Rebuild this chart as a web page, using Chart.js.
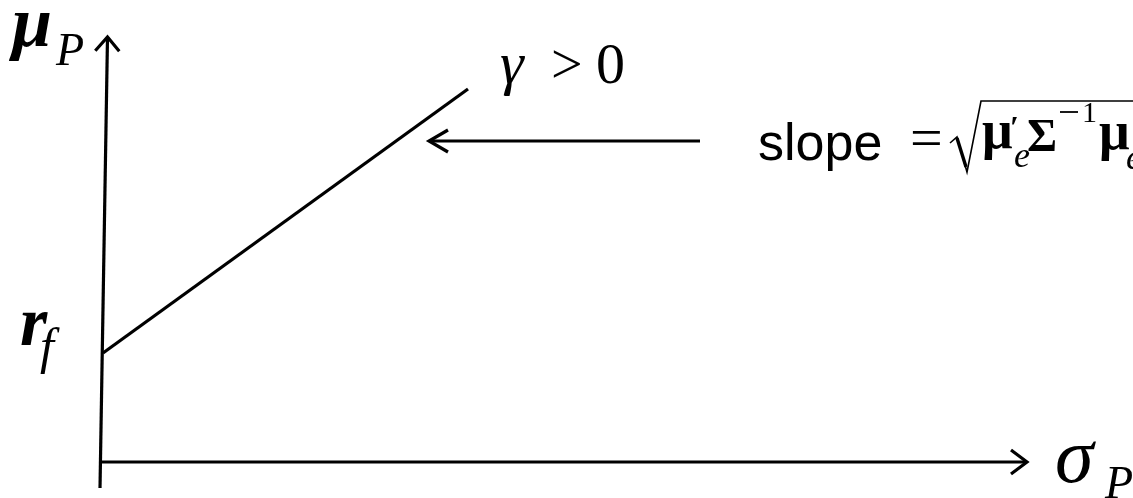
<!DOCTYPE html>
<html>
<head>
<meta charset="utf-8">
<script src="https://cdn.jsdelivr.net/npm/chart.js@4/dist/chart.umd.min.js"></script>
<style>
  html, body { margin: 0; padding: 0; background: #fff; }
</style>
</head>
<body>
<canvas id="graficoCML" width="1133" height="498"></canvas>
<script>
// Eixos do diagrama (sigma no x, mu no y), origem no cruzamento
const eixoXSigma = [0, 927];
const eixoXMu = [0, 0];
const eixoYSigma = [0, 7.5];
const eixoYMu = [-26, 425];

// Taxa livre de risco e a reta (capital market line) com gamma > 0
const rf = 109;
const retaSigma = [3, 368];
const retaMu = [rf, 373];

// Seta que aponta para a reta indicando a inclinação
const setaSigma = [600, 329];
const setaMu = [321, 321];

// Textos do diagrama
const rotuloY = ["μ", "P"];
const rotuloX = ["σ", "P"];
const rotuloRf = ["r", "f"];
const rotuloGamma = ["γ", ">", "0"];
const rotuloSlope = ["slope", "="];

function pontos(xs, ys) {
    return xs.map((x, i) => ({ x: x, y: ys[i] }));
}

// Desenha as pontas de seta abertas no último ponto de cada série marcada
const pontaSeta = {
    id: "pontaSeta",
    afterDatasetsDraw(chart) {
        const ctx = chart.ctx;
        chart.data.datasets.forEach((ds, i) => {
            if (!ds.seta) return;
            const pts = chart.getDatasetMeta(i).data;
            const a = pts[pts.length - 2], b = pts[pts.length - 1];
            const ang = Math.atan2(b.y - a.y, b.x - a.x);
            const comp = ds.seta.comp, larg = ds.seta.larg;
            ctx.save();
            ctx.strokeStyle = "#000";
            ctx.lineWidth = 3.2;
            ctx.lineJoin = "miter";
            ctx.beginPath();
            ctx.moveTo(b.x - comp * Math.cos(ang) + larg * Math.sin(ang),
                       b.y - comp * Math.sin(ang) - larg * Math.cos(ang));
            ctx.lineTo(b.x, b.y);
            ctx.lineTo(b.x - comp * Math.cos(ang) - larg * Math.sin(ang),
                       b.y - comp * Math.sin(ang) + larg * Math.cos(ang));
            ctx.stroke();
            ctx.restore();
        });
    }
};

// Escreve os rótulos matemáticos
const textos = {
    id: "textos",
    afterDraw(chart) {
        const ctx = chart.ctx;
        const sx = chart.scales.x, sy = chart.scales.y;
        const serif = "'Liberation Serif', 'Times New Roman', serif";
        ctx.save();
        ctx.fillStyle = "#000";
        ctx.strokeStyle = "#000";
        ctx.textBaseline = "alphabetic";
        ctx.textAlign = "left";

        // mu_P
        ctx.font = "bold italic 72px " + serif;
        ctx.fillText(rotuloY[0], 12, 46);
        ctx.font = "italic 46px " + serif;
        ctx.fillText(rotuloY[1], 56, 65);

        // r_f na altura da taxa livre de risco
        const yRf = sy.getPixelForValue(rf);
        ctx.font = "bold italic 70px " + serif;
        ctx.fillText(rotuloRf[0], 20, yRf - 8);
        ctx.font = "italic 50px " + serif;
        ctx.fillText(rotuloRf[1], 40, yRf + 10);

        // sigma_P na ponta do eixo x
        const xFim = sx.getPixelForValue(eixoXSigma[1]);
        const yEixo = sy.getPixelForValue(0);
        ctx.font = "italic 78px " + serif;
        ctx.fillText(rotuloX[0], xFim + 28, yEixo + 20);
        ctx.font = "italic 46px " + serif;
        ctx.fillText(rotuloX[1], xFim + 78, yEixo + 36);

        // gamma > 0
        ctx.font = "italic 60px " + serif;
        ctx.fillText(rotuloGamma[0], 500, 83);
        ctx.font = "56px " + serif;
        ctx.fillText(rotuloGamma[1], 551, 83);
        ctx.font = "58px " + serif;
        ctx.fillText(rotuloGamma[2], 596, 83);

        // slope = sqrt(mu'_e Sigma^-1 mu_e)
        const ySeta = sy.getPixelForValue(setaMu[0]);
        const base = ySeta + 19;
        ctx.font = "52px 'Liberation Sans', Arial, sans-serif";
        ctx.fillText(rotuloSlope[0], 758, base);
        ctx.font = "58px " + serif;
        ctx.fillText(rotuloSlope[1], 910, 157);

        // radical
        ctx.lineWidth = 1.6;
        ctx.beginPath();
        ctx.moveTo(950, 143);
        ctx.lineTo(957, 137);
        ctx.lineTo(967, 172);
        ctx.lineTo(981, 101);
        ctx.lineTo(1133, 101);
        ctx.stroke();
        ctx.lineWidth = 3.4;
        ctx.beginPath();
        ctx.moveTo(957, 138);
        ctx.lineTo(966, 167);
        ctx.stroke();

        ctx.font = "bold 54px " + serif;
        ctx.fillText("μ", 982, 148);
        ctx.font = "bold 32px " + serif;
        ctx.fillText("′", 1010, 138);
        ctx.font = "italic 36px " + serif;
        ctx.fillText("e", 1014, 167);
        ctx.font = "bold 46px " + serif;
        ctx.fillText("Σ", 1027, 151);
        // expoente -1: traço desenhado à mão para ficar com o comprimento certo
        ctx.lineWidth = 1.8;
        ctx.beginPath();
        ctx.moveTo(1060, 112);
        ctx.lineTo(1078, 112);
        ctx.stroke();
        ctx.font = "30px " + serif;
        ctx.fillText("1", 1082, 122);
        ctx.font = "bold 54px " + serif;
        ctx.fillText("μ", 1099, 149);
        ctx.font = "italic 36px " + serif;
        ctx.fillText("e", 1126, 169);

        ctx.restore();
    }
};

const estilo = {
    showLine: true,
    pointRadius: 0,
    borderColor: "#000",
    borderWidth: 3.2,
    fill: false,
    tension: 0
};

new Chart(document.getElementById("graficoCML"), {
    type: "scatter",
    data: {
        datasets: [
            { ...estilo, data: pontos(eixoYSigma, eixoYMu), seta: { comp: 14, larg: 12 } },
            { ...estilo, data: pontos(eixoXSigma, eixoXMu), seta: { comp: 16, larg: 12 } },
            { ...estilo, data: pontos(retaSigma, retaMu) },
            { ...estilo, data: pontos(setaSigma, setaMu), seta: { comp: 19, larg: 11 } }
        ]
    },
    options: {
        responsive: false,
        devicePixelRatio: 1,
        animation: false,
        layout: { padding: 0 },
        plugins: { legend: { display: false }, tooltip: { enabled: false } },
        scales: {
            x: { type: "linear", min: -100, max: 1033, display: false },
            y: { type: "linear", min: -36, max: 462, display: false }
        }
    },
    plugins: [pontaSeta, textos]
});
</script>
</body>
</html>
